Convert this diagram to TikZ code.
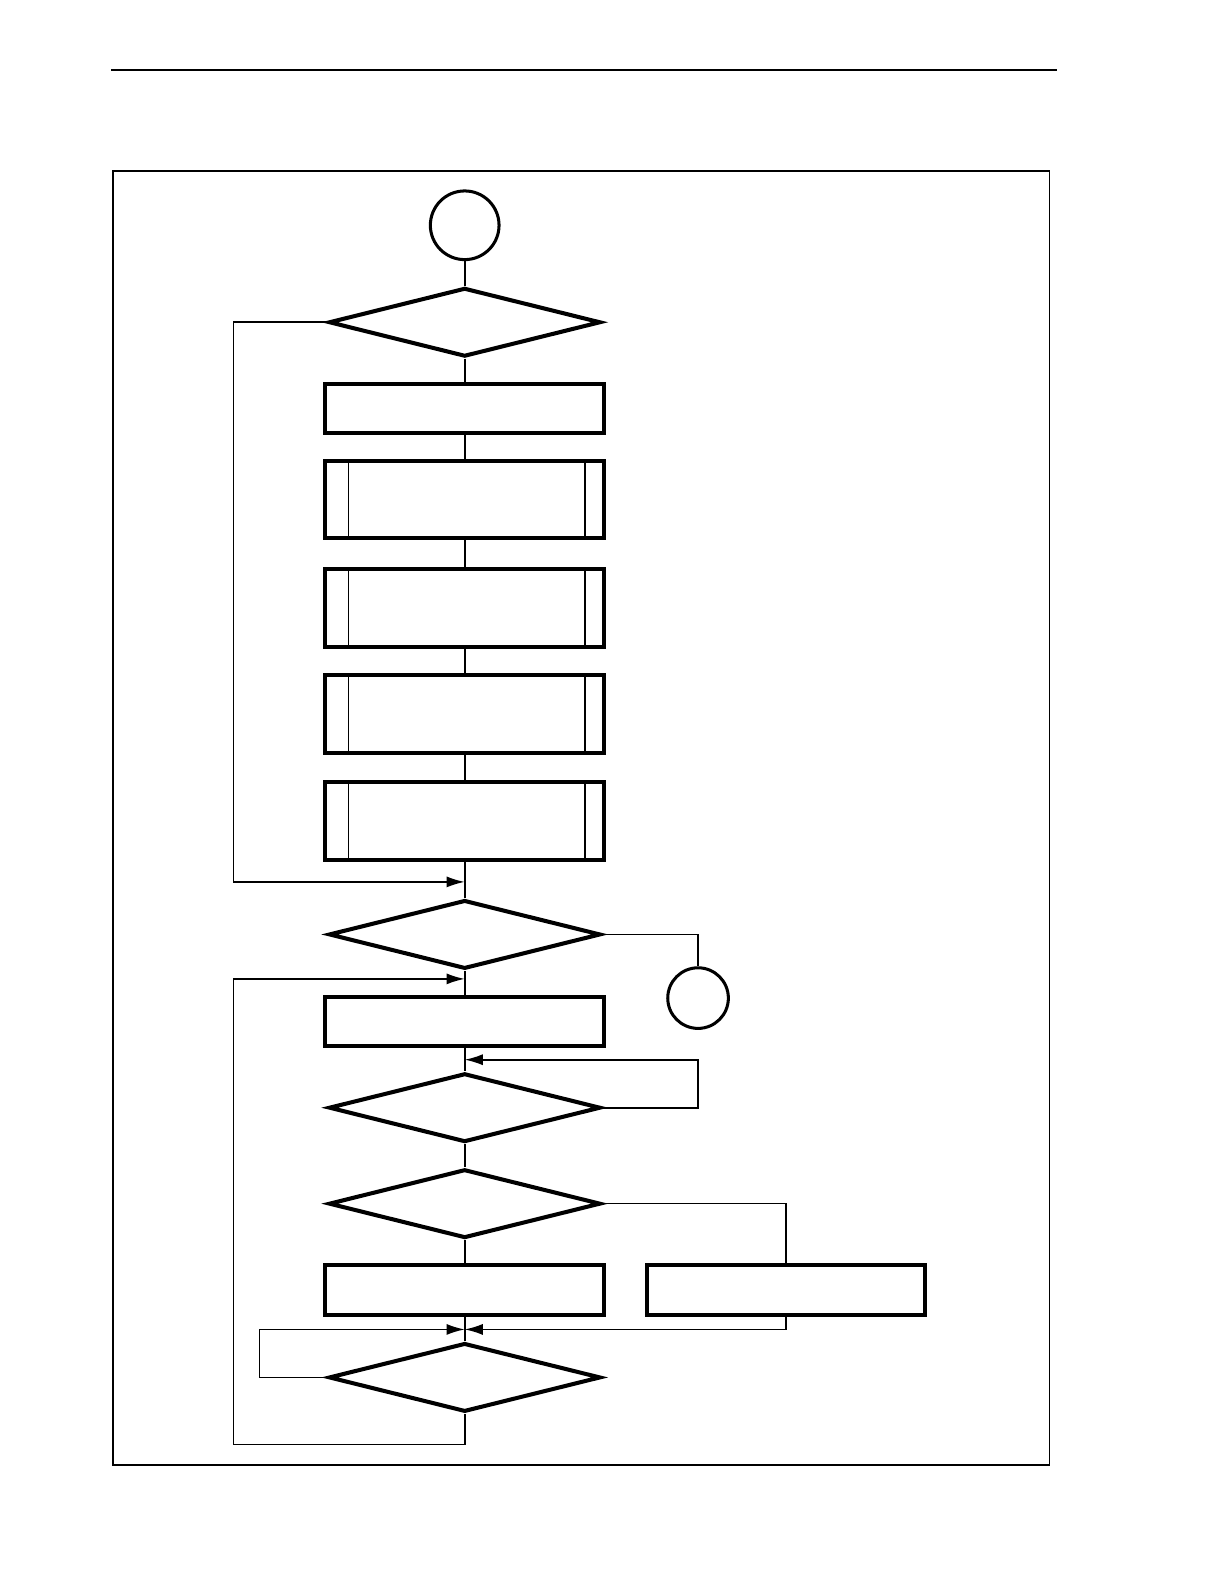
\documentclass[tikz,border=0pt]{standalone}
\usetikzlibrary{shapes.geometric,arrows.meta}

\tikzset{
  box/.style={draw,line width=2pt,rectangle,inner sep=0pt,minimum width=138pt,minimum height=24.5pt},
  subbox/.style={box,minimum height=38.5pt,
    path picture={
      \draw[line width=0.6pt] ([xshift=11.5pt]path picture bounding box.north west) -- ([xshift=11.5pt]path picture bounding box.south west);
      \draw[line width=0.6pt] ([xshift=-9.5pt]path picture bounding box.north east) -- ([xshift=-9.5pt]path picture bounding box.south east);
    }},
  test/.style={draw,line width=2pt,diamond,inner sep=0pt,minimum width=134.5pt,minimum height=34pt},
  term/.style={draw,line width=1.5pt,circle,inner sep=0pt,minimum size=34pt},
  flow/.style={line width=0.8pt},
  into/.style={flow,-{Latex[length=9pt,width=5.5pt]}}
}

\begin{document}
\begin{tikzpicture}[x=0.5pt,y=-0.5pt]
  \useasboundingbox (0,0) rectangle (1212,1568);

  % page rule and frame
  \draw[line width=0.8pt] (110,69) -- (1046,69);
  \draw[line width=0.8pt] (112,169) rectangle (1039,1450);

  % main column
  \node[term] (start) at (460,223) {};
  \node[test] (t1) at (460,319) {};
  \node[box] (b1) at (460,404.5) {};
  \node[subbox] (s1) at (460,494.5) {};
  \node[subbox] (s2) at (460,601.5) {};
  \node[subbox] (s3) at (460,706.5) {};
  \node[subbox] (s4) at (460,813) {};
  \node[test] (t2) at (460,925) {};
  \node[term,minimum size=30pt] (end1) at (691,988) {};
  \node[box] (b6) at (460,1011) {};
  \node[test] (t3) at (460,1096.5) {};
  \node[test] (t4) at (460,1191.5) {};
  \node[box] (b7) at (460,1277) {};
  \node[box] (b8) at (778,1277) {};
  \node[test] (t5) at (460,1363.5) {};

  % joins and corners
  \coordinate (j1) at (460,873);
  \coordinate (j2) at (460,969);
  \coordinate (j3) at (460,1049);
  \coordinate (j4) at (460,1316);
  \coordinate (l1) at (231,873);
  \coordinate (l2) at (231,969);
  \coordinate (bl) at (231,1430);
  \coordinate (r3) at (691,1049);
  \coordinate (l5) at (257,1316);

  \draw[flow] (start) -- (t1);
  \draw[flow] (t1) -- (b1);
  \draw[flow] (b1) -- (s1);
  \draw[flow] (s1) -- (s2);
  \draw[flow] (s2) -- (s3);
  \draw[flow] (s3) -- (s4);
  \draw[flow] (s4) -- (t2);
  \draw[into] (t1.west) -| (l1) -- (j1);

  \draw[flow] (t2.east) -| (end1);
  \draw[flow] (t2) -- (b6);
  \draw[flow] (b6) -- (t3);
  \draw[into] (t3.east) -| (r3) -- (j3);
  \draw[flow] (t3) -- (t4);
  \draw[flow] (t4.east) -| (b8);
  \draw[flow] (t4) -- (b7);
  \draw[flow] (b7) -- (t5);
  \draw[into] (b8.south) |- (j4);
  \draw[into] (t5.west) -| (l5) -- (j4);
  \draw[into] (t5.south) |- (bl) -- (l2) -- (j2);
\end{tikzpicture}
\end{document}
